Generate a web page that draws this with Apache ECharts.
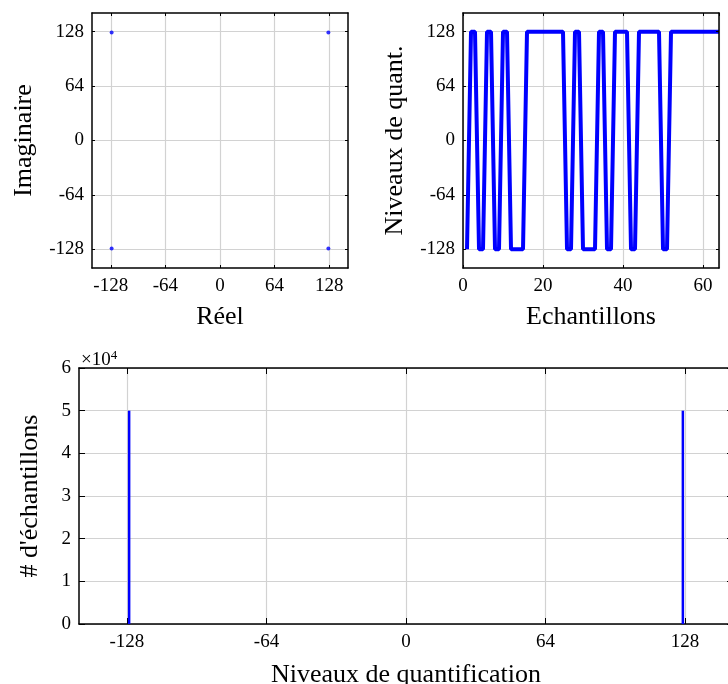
<!DOCTYPE html>
<html><head><meta charset="utf-8">
<script src="https://cdn.jsdelivr.net/npm/echarts@6/dist/echarts.min.js"></script>
<style>html,body{margin:0;padding:0;background:#fff}#c{width:728px;height:684px}</style>
</head><body><div id="c"></div>
<script>
// ---- Data ----
const constReal = [-127, 127, -127, 127];
const constImag = [127, 127, -127, -127];
const iqTicks = [-128, -64, 0, 64, 128];

const sampleLevels = [
  -128, 128, 128, -128, -128, 128, 128, -128, -128, 128,
   128, -128, -128, -128, -128, 128, 128, 128, 128, 128,
   128, 128, 128, 128, 128, -128, -128, 128, 128, -128,
  -128, -128, -128, 128, 128, -128, -128, 128, 128, 128,
   128, -128, -128, 128, 128, 128, 128, 128, 128, -128,
  -128, 128, 128, 128, 128, 128, 128, 128, 128, 128,
   128, 128, 128, 128
];

const histLevels = [-127, 127];
const histCounts = [50000, 50000];

// ---- Style ----
const FONT = 'Liberation Serif';
const BLACK = '#000';
const GRIDC = '#d2d2d2';
const BLUE = '#0000ff';

function mkAxis(o) {
  const a = {
    type: 'value', gridIndex: o.grid, position: o.pos, min: o.min, max: o.max,
    axisLine: {show: true, onZero: false, lineStyle: {color: BLACK, width: 1.5}},
    axisTick: {show: true, inside: true, length: o.tickLen, lineStyle: {color: BLACK, width: 1}},
    axisLabel: {show: !!o.main, color: BLACK, fontFamily: FONT, fontSize: 19, margin: o.labelMargin || 8},
    splitLine: {show: !!o.main, lineStyle: {color: GRIDC, width: 1.2}},
    z: o.main ? 0 : 10
  };
  if (o.ticks) { a.axisTick.customValues = o.ticks; a.axisLabel.customValues = o.ticks; }
  if (o.interval) a.interval = o.interval;
  if (o.fmt) a.axisLabel.formatter = o.fmt;
  if (o.name) {
    a.name = o.name; a.nameLocation = 'middle'; a.nameGap = o.nameGap;
    a.nameTextStyle = {fontFamily: FONT, fontSize: 26, color: BLACK};
  }
  return a;
}

const grids = [
  {left: 92, top: 13, width: 256, height: 255, outerBoundsMode: 'none'},
  {left: 463, top: 13, width: 256, height: 255, outerBoundsMode: 'none'},
  {left: 79, top: 368, width: 654, height: 256, outerBoundsMode: 'none'}
];

const xAxes = [
  mkAxis({grid: 0, pos: 'bottom', min: -150, max: 150, ticks: iqTicks, tickLen: 3, main: true, name: 'Réel', nameGap: 36, labelMargin: 9}),
  mkAxis({grid: 0, pos: 'top', min: -150, max: 150, ticks: iqTicks, tickLen: 3}),
  mkAxis({grid: 1, pos: 'bottom', min: 0, max: 64, interval: 20, tickLen: 3, main: true, name: 'Echantillons', nameGap: 36, labelMargin: 9}),
  mkAxis({grid: 1, pos: 'top', min: 0, max: 64, interval: 20, tickLen: 3}),
  mkAxis({grid: 2, pos: 'bottom', min: -150, max: 150, ticks: iqTicks, tickLen: 6, main: true, name: 'Niveaux de quantification', nameGap: 38, labelMargin: 9}),
  mkAxis({grid: 2, pos: 'top', min: -150, max: 150, ticks: iqTicks, tickLen: 6})
];
const yAxes = [
  mkAxis({grid: 0, pos: 'left', min: -150, max: 150, ticks: iqTicks, tickLen: 3, main: true, name: 'Imaginaire', nameGap: 55}),
  mkAxis({grid: 0, pos: 'right', min: -150, max: 150, ticks: iqTicks, tickLen: 3}),
  mkAxis({grid: 1, pos: 'left', min: -150, max: 150, ticks: iqTicks, tickLen: 3, main: true, name: 'Niveaux de quant.', nameGap: 55}),
  mkAxis({grid: 1, pos: 'right', min: -150, max: 150, ticks: iqTicks, tickLen: 3}),
  mkAxis({grid: 2, pos: 'left', min: 0, max: 60000, interval: 10000, tickLen: 6, main: true, name: "# d'échantillons", nameGap: 36, fmt: v => String(v / 10000)}),
  mkAxis({grid: 2, pos: 'right', min: 0, max: 60000, interval: 10000, tickLen: 6})
];

const chart = echarts.init(document.getElementById('c'), null, {renderer: 'canvas'});
chart.setOption({
  animation: false,
  backgroundColor: '#fff',
  grid: grids,
  xAxis: xAxes,
  yAxis: yAxes,
  graphic: [{
    type: 'text', left: 81, top: 349,
    style: {
      text: '{a|×10}{b|4}', fontFamily: FONT,
      rich: {
        a: {fontFamily: FONT, fontSize: 19, fill: BLACK},
        b: {fontFamily: FONT, fontSize: 13, fill: BLACK, verticalAlign: 'top', padding: [0, 0, 9, 0]}
      }
    }
  }],
  series: [
    {type: 'scatter', xAxisIndex: 0, yAxisIndex: 0, symbolSize: 4, itemStyle: {color: BLUE},
     data: constReal.map((r, i) => [r, constImag[i]]), z: 3},
    {type: 'line', xAxisIndex: 2, yAxisIndex: 2, showSymbol: false, clip: true,
     lineStyle: {color: BLUE, width: 4}, itemStyle: {color: BLUE},
     data: sampleLevels.map((v, i) => [i + 1, v]), z: 3},
    {type: 'bar', xAxisIndex: 4, yAxisIndex: 4, barWidth: 2.5, itemStyle: {color: BLUE},
     data: histLevels.map((l, i) => [l, histCounts[i]]), z: 3}
  ]
});
</script></body></html>
